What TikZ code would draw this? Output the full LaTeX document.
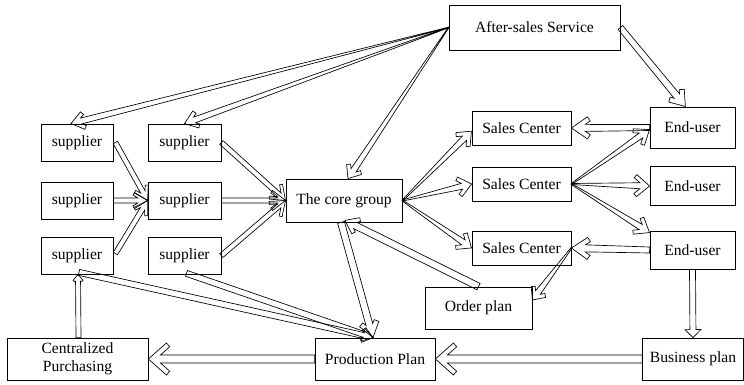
\documentclass[tikz,border=0pt]{standalone}
\usepackage{fontspec}
\setmainfont{Liberation Serif}
\usetikzlibrary{calc}
\tikzset{
  box/.style={draw, line width=0.6pt, inner sep=0pt, align=center, font=\fontsize{11.7}{13.5}\selectfont},
  arr/.style={draw, line width=0.5pt, line join=miter},
}
% chevron-headed hollow block arrow: from, to, w0, w, h, H, t (in px)
\newcommand\chevarrow[7]{%
  \path (#1) coordinate (ca-s) (#2) coordinate (ca-e);%
  \pgfpointdiff{\pgfpointanchor{ca-s}{center}}{\pgfpointanchor{ca-e}{center}}%
  \pgfgetlastxy{\cdx}{\cdy}%
  \pgfmathsetmacro\cang{atan2(\cdy,\cdx)}%
  \pgfmathsetmacro\cL{veclen(\cdx,\cdy)}%
  \pgfmathsetmacro\cwo{0.75*#3}%
  \pgfmathsetmacro\cw{0.75*#4}%
  \pgfmathsetmacro\ch{0.75*#5}%
  \pgfmathsetmacro\cH{0.75*#6}%
  \pgfmathsetmacro\ct{0.75*#7}%
  \pgfmathsetmacro\cs{veclen(\ch,\cH)}%
  \pgfmathsetmacro\cbx{\cL-\ch}%
  \pgfmathsetmacro\cpx{\cL-\ch-\cH*\ct/\cs}%
  \pgfmathsetmacro\cpy{\cH-\ch*\ct/\cs}%
  \pgfmathsetmacro\cjx{\cL-\cH*\ct/\cs-\ch*(\cw+\ch*\ct/\cs)/\cH}%
  \begin{scope}[shift={(ca-s)},rotate=\cang]
    \draw[arr] (0pt,\cwo pt) -- (\cjx pt,\cw pt) -- (\cpx pt,\cpy pt) -- (\cbx pt,\cH pt) -- (\cL pt,0pt)
      -- (\cbx pt,-\cH pt) -- (\cpx pt,-\cpy pt) -- (\cjx pt,-\cw pt) -- (0pt,-\cwo pt) -- cycle;
  \end{scope}%
}
% triangle-headed hollow block arrow: from, to, w, h, H (px)
\newcommand\blkarrow[5]{%
  \path (#1) coordinate (ca-s) (#2) coordinate (ca-e);%
  \pgfpointdiff{\pgfpointanchor{ca-s}{center}}{\pgfpointanchor{ca-e}{center}}%
  \pgfgetlastxy{\cdx}{\cdy}%
  \pgfmathsetmacro\cang{atan2(\cdy,\cdx)}%
  \pgfmathsetmacro\cL{veclen(\cdx,\cdy)}%
  \pgfmathsetmacro\cw{0.75*#3}%
  \pgfmathsetmacro\ch{0.75*#4}%
  \pgfmathsetmacro\cH{0.75*#5}%
  \pgfmathsetmacro\cbx{\cL-\ch}%
  \begin{scope}[shift={(ca-s)},rotate=\cang]
    \draw[arr] (0pt,\cw pt) -- (\cbx pt,\cw pt) -- (\cbx pt,\cH pt) -- (\cL pt,0pt)
      -- (\cbx pt,-\cH pt) -- (\cbx pt,-\cw pt) -- (0pt,-\cw pt) -- cycle;
  \end{scope}%
}
\begin{document}
\begin{tikzpicture}[x=0.75pt,y=-0.75pt]
\useasboundingbox (0,0) rectangle (744,385);
% nodes
\node[box, minimum width=171*0.75pt, minimum height=45*0.75pt] (as) at (534.5,27.5) {After-sales Service};
\node[box, minimum width=99*0.75pt, minimum height=34*0.75pt] (sc1) at (521.5,128) {Sales Center};
\node[box, minimum width=99*0.75pt, minimum height=34*0.75pt] (sc2) at (521.5,184) {Sales Center};
\node[box, minimum width=99*0.75pt, minimum height=34*0.75pt] (sc3) at (521.5,248) {Sales Center};
\node[box, minimum width=85*0.75pt, minimum height=41*0.75pt] (eu1) at (692.5,127.5) {End-user};
\node[box, minimum width=85*0.75pt, minimum height=39*0.75pt] (eu2) at (692.5,186) {End-user};
\node[box, minimum width=85*0.75pt, minimum height=38*0.75pt] (eu3) at (692.5,250) {End-user};
\node[box, minimum width=107*0.75pt, minimum height=42*0.75pt] (op) at (478.5,308) {Order plan};
\node[box, minimum width=101*0.75pt, minimum height=42*0.75pt] (bp) at (693,359) {Business plan};
\node[box, minimum width=120*0.75pt, minimum height=42*0.75pt] (pp) at (375,359) {Production Plan};
\node[box, minimum width=141*0.75pt, minimum height=42*0.75pt] (cp) at (77.5,359) {Centralized\\Purchasing};
\node[box, minimum width=72*0.75pt, minimum height=37*0.75pt] (s11) at (77,142.5) {supplier};
\node[box, minimum width=72*0.75pt, minimum height=37*0.75pt] (s21) at (77,200.5) {supplier};
\node[box, minimum width=72*0.75pt, minimum height=37*0.75pt] (s31) at (77,255.5) {supplier};
\node[box, minimum width=73*0.75pt, minimum height=37*0.75pt] (s12) at (184.5,142.5) {supplier};
\node[box, minimum width=73*0.75pt, minimum height=37*0.75pt] (s22) at (184.5,200.5) {supplier};
\node[box, minimum width=73*0.75pt, minimum height=37*0.75pt] (s32) at (184.5,255.5) {supplier};
\node[box, minimum width=116*0.75pt, minimum height=43*0.75pt] (core) at (344,200.5) {The core group};
% connectors
\chevarrow{as.west}{$(s11.north)+(-6,0)$}{0.3}{3}{12}{9}{4}
\chevarrow{as.west}{s12.north}{0.3}{3}{12}{9}{4}
\chevarrow{as.west}{$(core.north)+(4,0)$}{0.3}{3}{11}{9}{4}
\chevarrow{as.east}{$(eu1.north)+(-7,0)$}{3}{3.5}{14}{10}{5}
\chevarrow{eu1.west}{sc1.east}{3}{3.5}{16}{11}{5}
\chevarrow{core.east}{$(sc1.west)+(0,3)$}{0.5}{3}{12}{10}{4}
\chevarrow{core.east}{sc2.west}{0.5}{3}{12}{10}{4}
\chevarrow{core.east}{sc3.west}{0.5}{3}{12}{10}{4}
\chevarrow{sc2.east}{$(eu1.west)+(0,2)$}{0.5}{3}{13}{10}{4}
\chevarrow{sc2.east}{eu2.west}{0.5}{3}{13}{11}{4}
\chevarrow{sc2.east}{$(eu3.north west)+(0,2)$}{0.5}{3}{13}{10}{4}
\chevarrow{eu3.west}{sc3.east}{3}{3.5}{16}{11}{5}
\chevarrow{sc3.east}{$(op.east)+(0,-8)$}{0.5}{3}{10}{9}{4}
\chevarrow{op.north}{$(core.south)+(1,-2)$}{3.5}{3.5}{12}{9}{4}
\chevarrow{$(core.south)+(-3,0)$}{$(pp.north)+(-2,0)$}{3.5}{3.5}{14}{10}{5}
\blkarrow{eu3.south}{bp.north}{3}{8}{8}
\chevarrow{bp.west}{pp.east}{4}{4}{18}{16}{5}
\chevarrow{pp.west}{cp.east}{4}{4}{18}{16}{5}
\chevarrow{$(cp.north)+(1,0)$}{$(s31.south)+(1,0)$}{2.5}{2.5}{6}{5}{2.5}
\chevarrow{$(s31.south)+(2,-2)$}{$(pp.north)+(-2,0)$}{3}{3}{10}{7}{3}
\chevarrow{$(s32.south)+(2,-1)$}{$(pp.north)+(-2,0)$}{3}{3}{10}{7}{3}
\chevarrow{$(s11.east)+(2,0)$}{s22.west}{2.5}{2.5}{13}{8}{3}
\chevarrow{s21.east}{s22.west}{2.5}{2.5}{13}{8}{3}
\chevarrow{$(s31.east)+(2,-2)$}{s22.west}{2.5}{2.5}{13}{8}{3}
\chevarrow{s12.east}{core.west}{2.5}{2.5}{13}{10}{3}
\chevarrow{s22.east}{core.west}{2.5}{2.5}{13}{10}{3}
\chevarrow{s32.east}{core.west}{2.5}{2.5}{13}{10}{3}
\end{tikzpicture}
\end{document}
